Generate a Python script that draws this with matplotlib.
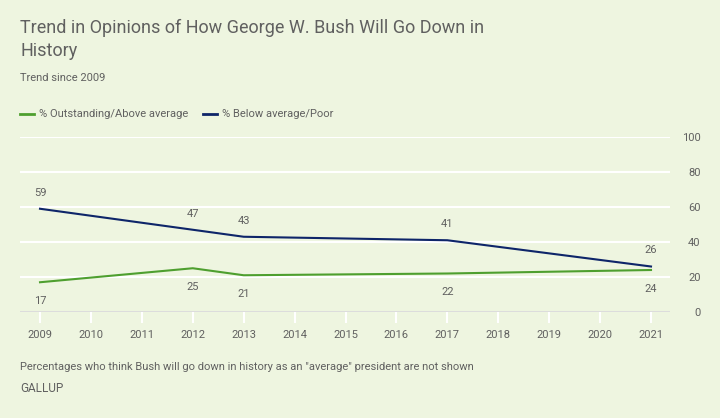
import matplotlib
matplotlib.use("Agg")
from matplotlib import pyplot as plt

plt.rcParams['font.family'] = ['Roboto', 'DejaVu Sans']

years = [2009, 2012, 2013, 2017, 2021]
above = [17, 25, 21, 22, 24]
below = [59, 47, 43, 41, 26]
year_ticks = list(range(2009, 2022))
y_ticks = [0, 20, 40, 60, 80, 100]

bg = '#EEF5E0'
green = '#4E9F2F'
navy = '#0E2569'
text_col = '#606060'

fig = plt.figure(figsize=(7.2, 4.18), dpi=100, facecolor=bg)
ax = fig.add_axes([20 / 720, 106 / 418, 650 / 720, 175 / 418], facecolor=bg)

ax.set_xlim(2008.607, 2021.373)
ax.set_ylim(0, 100)

for y in y_ticks[1:]:
    ax.axhline(y, color='white', lw=1.5, zorder=1)
ax.axhline(0, color='#DCDCDC', lw=2.2, zorder=2)

ax.plot(years, below, color=navy, lw=1.5, zorder=3, clip_on=False)
ax.plot(years, above, color=green, lw=1.5, zorder=3, clip_on=False)

for x, v in zip(years, below):
    ax.annotate(str(v), (x, v), xytext=(0, 8), textcoords='offset points',
                ha='center', va='bottom', fontsize=8, color=text_col)
for x, v in zip(years, above):
    ax.annotate(str(v), (x, v), xytext=(0, -10), textcoords='offset points',
                ha='center', va='top', fontsize=8, color=text_col)

for s in ax.spines.values():
    s.set_visible(False)

ax.set_xticks(year_ticks)
ax.set_xticklabels([str(y) for y in year_ticks])
ax.tick_params(axis='x', length=8, width=1.5, color='white', pad=5,
               labelsize=8, labelcolor=text_col)

ax.yaxis.tick_right()
ax.set_yticks(y_ticks)
ax.set_yticklabels([str(y) for y in y_ticks])
ax.tick_params(axis='y', length=0, pad=22, labelsize=8, labelcolor=text_col)
for lab in ax.get_yticklabels():
    lab.set_horizontalalignment('right')

fig.text(20 / 720, 1 - 28 / 418, 'Trend in Opinions of How George W. Bush Will Go Down in',
         fontsize=13, color=text_col, va='center', ha='left')
fig.text(20 / 720, 1 - 51 / 418, 'History', fontsize=13, color=text_col, va='center', ha='left')
fig.text(20 / 720, 1 - 78 / 418, 'Trend since 2009', fontsize=8, color=text_col, va='center')

# legend
ly = 1 - 114 / 418
fig.add_artist(plt.Line2D([20 / 720, 34 / 720], [ly, ly], color=green, lw=2))
fig.text(39 / 720, ly, '% Outstanding/Above average', fontsize=8, color=text_col, va='center')
fig.add_artist(plt.Line2D([203 / 720, 217 / 720], [ly, ly], color=navy, lw=2))
fig.text(222 / 720, ly, '% Below average/Poor', fontsize=8, color=text_col, va='center')

fig.text(20 / 720, 1 - 367 / 418,
         'Percentages who think Bush will go down in history as an "average" president are not shown',
         fontsize=8, color=text_col, va='center')
fig.text(20 / 720, 1 - 388 / 418, 'GALLUP', fontsize=8.5, color=text_col, va='center')

fig.savefig('out.png', dpi=100, facecolor=bg)
